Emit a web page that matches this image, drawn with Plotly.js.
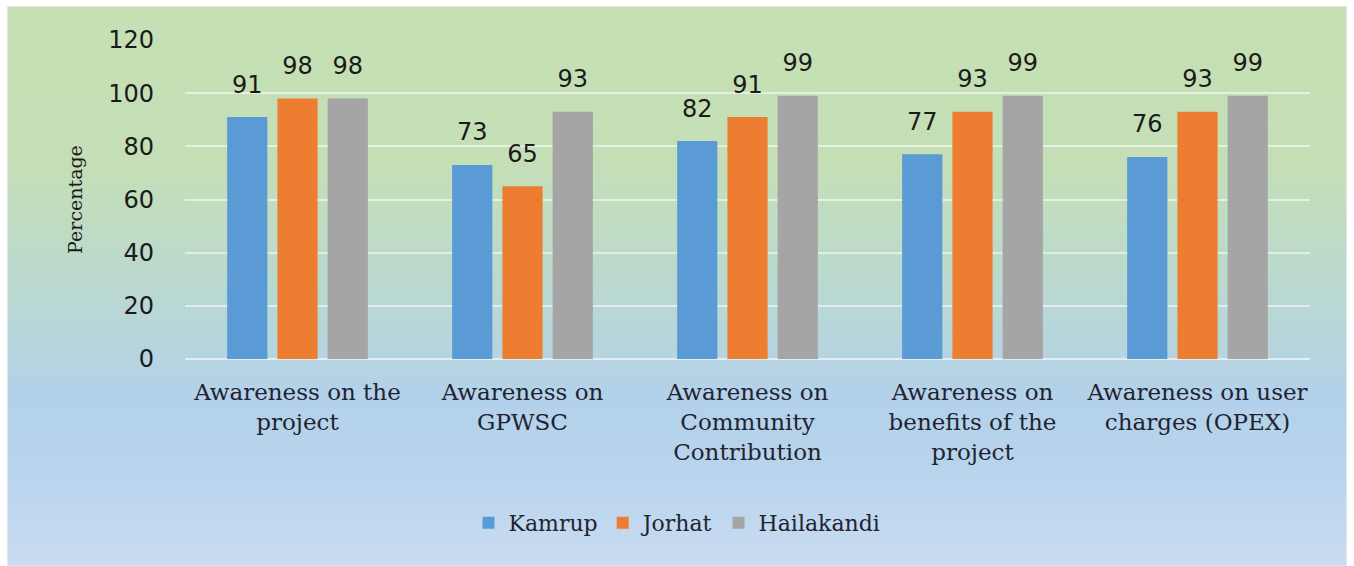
<!DOCTYPE html>
<html>
<head>
<meta charset="utf-8">
<script src="https://cdn.plot.ly/plotly-3.0.1.min.js"></script>
<style>
  html, body { margin: 0; padding: 0; background: #ffffff; }
  #wrap { position: relative; width: 1354px; height: 566px; }
  #bg {
    position: absolute; left: 7px; top: 6px; width: 1340px; height: 560px;
    background: linear-gradient(to bottom, #c6e0b4 0%, #c4dfb6 28%, #b9d8d2 52%, #b3d1ea 70%, #bad5ee 86%, #c9dcf1 100%);
    border: 1px solid #e6e6e6; box-sizing: border-box;
  }
  #chart { position: absolute; left: 0; top: 0; width: 1354px; height: 566px; }
</style>
</head>
<body>
<div id="wrap">
  <div id="bg"></div>
  <div id="chart"></div>
</div>
<script>
const categories = [
  "Awareness on the<br>project",
  "Awareness on<br>GPWSC",
  "Awareness on<br>Community<br>Contribution",
  "Awareness on<br>benefits of the<br>project",
  "Awareness on user<br>charges (OPEX)"
];
const kamrup = [91, 73, 82, 77, 76];
const jorhat = [98, 65, 91, 93, 93];
const hailakandi = [98, 93, 99, 99, 99];
const seriesNames = ["Kamrup", "Jorhat", "Hailakandi"];
const seriesColors = ["#5b9bd5", "#ed7d31", "#a5a5a5"];
const yTicks = [0, 20, 40, 60, 80, 100, 120];

const allSeries = [kamrup, jorhat, hailakandi];
const barTraces = allSeries.map((vals, i) => ({
  type: "bar",
  name: seriesNames[i],
  x: categories,
  y: vals,
  marker: { color: seriesColors[i] },
  hoverinfo: "x+y+name"
}));
// value labels, grouped alongside the bars, lifted above the bar tops
const labelTraces = allSeries.map((vals, i) => ({
  type: "scatter",
  mode: "markers+text",
  name: seriesNames[i] + " labels",
  showlegend: false,
  x: categories,
  y: vals,
  text: vals.map(String),
  textposition: "top center",
  textfont: { family: "DejaVu Sans", size: 24, color: "#1a1a1a" },
  marker: { size: 28, opacity: 0, color: seriesColors[i] },
  cliponaxis: false,
  hoverinfo: "skip"
}));

const layout = {
  width: 1354,
  height: 566,
  paper_bgcolor: "rgba(0,0,0,0)",
  plot_bgcolor: "rgba(0,0,0,0)",
  margin: { l: 185, r: 44, t: 40, b: 207 },
  barmode: "group",
  bargap: 0.33,
  bargroupgap: 0.2,
  scattermode: "group",
  scattergap: 0.33,
  showlegend: true,
  legend: {
    orientation: "h",
    x: 0.5, xref: "container", xanchor: "center",
    y: 0.076, yref: "container",
    yanchor: "middle",
    font: { family: "DejaVu Serif", size: 22, color: "#1f2430" },
    itemwidth: 30,
    traceorder: "normal",
    bgcolor: "rgba(0,0,0,0)"
  },
  xaxis: {
    type: "category",
    tickfont: { family: "DejaVu Serif", size: 23, color: "#1f2430" },
    showgrid: false,
    showline: false,
    ticks: "",
    zeroline: false,
    ticklabelstandoff: 17,
    automargin: false
  },
  yaxis: {
    range: [0, 120],
    tickvals: yTicks,
    ticktext: yTicks.map(String),
    tickfont: { family: "DejaVu Sans", size: 24, color: "#1a1a1a" },
    showgrid: true,
    gridcolor: "rgba(255,255,255,0.55)",
    gridwidth: 2,
    zeroline: true,
    zerolinecolor: "rgba(255,255,255,0.6)",
    zerolinewidth: 2,
    showline: false,
    ticks: "",
    ticklabelstandoff: 30,
    automargin: false,
    title: {
      text: "Percentage",
      font: { family: "DejaVu Serif", size: 19, color: "#1a1a1a" },
      standoff: 20
    }
  }
};

Plotly.newPlot("chart", barTraces.concat(labelTraces), layout, { displayModeBar: false, staticPlot: true });
</script>
</body>
</html>
